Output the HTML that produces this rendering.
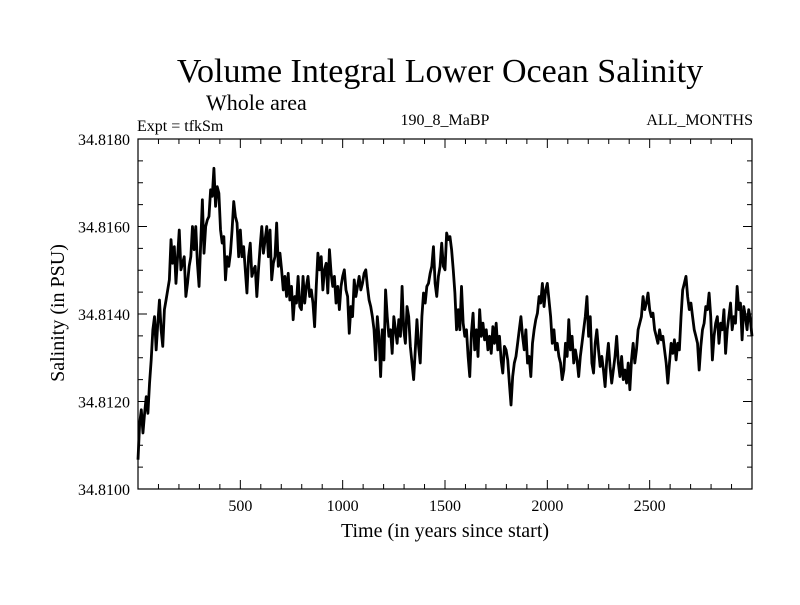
<!DOCTYPE html>
<html><head><meta charset="utf-8"><style>
body{margin:0;background:#fff;}
svg text{font-family:"Liberation Serif",serif;fill:#000;}
</style></head><body>
<svg id="chart" width="800" height="600" viewBox="0 0 800 600">
<rect x="0" y="0" width="800" height="600" fill="#fff"/>
<text x="440" y="82" font-size="34" text-anchor="middle">Volume Integral Lower Ocean Salinity</text>
<text x="206" y="110" font-size="22">Whole area</text>
<text x="137" y="131" font-size="16">Expt = tfkSm</text>
<text x="445" y="125" font-size="16" text-anchor="middle">190_8_MaBP</text>
<text x="753" y="125" font-size="16" text-anchor="end">ALL_MONTHS</text>
<text x="445" y="537" font-size="20" text-anchor="middle">Time (in years since start)</text>
<text x="0" y="0" font-size="20" text-anchor="middle" transform="translate(64,313) rotate(-90)">Salinity (in PSU)</text>
<g id="axes"></g>
<g id="plot"></g>
<rect x="138" y="139" width="614" height="350" fill="none" stroke="#000" stroke-width="1.2"/>
</svg>
<script>
const yearStart = 0;
const yearEnd = 3000;
const xTicks = [500, 1000, 1500, 2000, 2500];
const yTicks = [34.810, 34.812, 34.814, 34.816, 34.818];
const yTickLabels = ["34.8100","34.8120","34.8140","34.8160","34.8180"];
// salinity anomaly above 34.8100 in units of 1e-4 PSU
const anomaly = [6.7,15.0,18.1,12.8,17.3,21.1,17.3,24.2,29.5,36.4,39.4,31.8,37.9,43.2,36.4,32.6,41.0,43.2,45.5,47.8,57.0,51.6,55.4,47.0,53.1,59.2,50.1,51.6,53.1,44.0,47.0,50.9,53.1,60.0,54.7,60.0,51.6,46.3,56.2,66.1,53.9,60.0,61.5,62.3,68.4,66.9,73.3,64.6,69.1,67.6,59.2,56.2,57.7,47.8,53.1,50.9,53.9,59.2,65.7,62.3,60.8,53.1,59.2,53.1,55.4,50.1,44.8,53.1,56.2,48.6,50.1,50.9,44.0,50.1,55.4,60.0,53.9,57.0,60.0,53.1,59.2,47.8,51.6,53.1,60.8,50.9,53.9,50.1,45.5,48.6,44.0,49.3,43.2,46.3,38.7,44.0,42.5,48.6,41.7,41.0,48.6,42.5,46.3,48.6,44.0,45.5,42.5,37.1,46.3,53.9,50.1,53.1,45.5,50.1,51.6,44.8,54.7,49.3,46.3,48.6,42.5,46.3,41.0,46.3,48.6,50.1,45.5,44.0,35.6,41.7,39.4,47.8,44.0,46.3,48.6,45.5,47.0,49.3,50.1,46.3,43.2,41.7,39.4,36.4,29.5,39.4,34.9,25.7,36.4,29.5,45.5,39.4,34.9,36.4,31.0,39.4,36.4,33.3,38.7,34.9,46.3,36.4,33.3,41.7,39.4,32.6,28.8,25.0,31.8,38.7,32.6,28.8,39.4,44.8,42.5,46.3,47.0,49.3,50.9,55.4,47.0,44.0,48.6,50.9,56.2,50.9,50.1,58.5,57.0,
57.7,54.7,50.1,44.8,36.4,41.0,36.4,46.3,37.9,34.9,36.4,30.3,25.7,35.6,40.2,31.8,36.4,30.3,41.0,34.9,37.9,34.1,36.4,31.8,34.9,31.0,37.1,33.3,37.9,31.8,34.9,29.5,26.5,32.6,31.8,29.5,24.2,19.2,25.7,28.8,30.3,33.3,36.4,39.4,34.9,31.8,36.4,28.8,30.3,25.7,33.3,36.4,38.7,40.2,44.0,42.5,47.0,41.7,45.5,47.0,43.2,39.4,33.3,36.4,31.8,33.3,30.3,28.8,25.0,27.2,33.3,30.3,38.7,31.8,34.9,28.8,31.8,29.5,25.7,30.3,33.3,36.4,39.4,44.0,34.9,39.4,28.8,26.5,33.3,36.4,31.8,28.0,30.3,27.2,23.4,29.5,33.3,28.0,24.2,27.2,30.3,34.9,28.8,25.7,30.3,25.0,27.2,24.2,28.8,22.7,29.5,33.3,28.8,31.8,36.4,37.9,39.4,44.0,41.0,42.5,44.8,41.0,39.4,40.2,36.4,34.9,33.3,36.4,34.1,34.9,31.8,28.8,24.2,28.8,33.3,31.0,34.1,29.5,33.3,31.8,39.4,45.5,47.0,48.6,44.0,41.0,42.5,39.4,36.4,34.9,33.3,27.2,32.6,36.4,37.9,41.7,41.0,44.8,39.4,29.5,34.9,37.9,39.4,33.3,37.9,36.4,41.0,31.0,36.4,39.4,42.5,36.4,39.4,37.9,46.3,41.0,42.5,34.1,41.7,39.4,36.4,41.0,38.7,34.9];
const baseSalinity = 34.8100;
const anomalyUnit = 1e-4;

const L=138,R=752,T=139,B=489;
const xs = y => L + (y - yearStart) / (yearEnd - yearStart) * (R - L);
const ys = v => B - (v - 34.810) / (34.818 - 34.810) * (B - T);
const NS='http://www.w3.org/2000/svg';
const axes=document.getElementById('axes');
const plot=document.getElementById('plot');
function ln(x1,y1,x2,y2,name){
  const l=document.createElementNS(NS,'line');
  l.setAttribute('x1',x1);l.setAttribute('y1',y1);l.setAttribute('x2',x2);l.setAttribute('y2',y2);
  l.setAttribute('stroke','#000');l.setAttribute('stroke-width','1');
  
  
  axes.appendChild(l);
}
function tx(x,y,s,anchor,name){
  const t=document.createElementNS(NS,'text');
  t.setAttribute('x',x);t.setAttribute('y',y);t.setAttribute('font-size','16');t.setAttribute('text-anchor',anchor);
  t.textContent=s;
  
  
  axes.appendChild(t);
}
for(let yr=100; yr<3000; yr+=100){
  const major = yr%500===0;
  const len = major?9:5;
  const x=xs(yr);
  ln(x,B,x,B-len,'x-tick');
  ln(x,T,x,T+len,'x-tick-top');
}
xTicks.forEach(v=>tx(xs(v),511,String(v),'middle','x-tick-label'));
for(let k=1;k<16;k++){
  const v=34.810+k*0.0005;
  const major = k%4===0;
  const len = major?9:5;
  const y=ys(v);
  ln(L,y,L+len,y,'y-tick');
  ln(R,y,R-len,y,'y-tick-right');
}
yTicks.forEach((v,i)=>tx(130,ys(v)+6,yTickLabels[i],'end','y-tick-label'));

const n=anomaly.length;
const step=(yearEnd-yearStart)/(n-1);
let d='';
anomaly.forEach((a,i)=>{
  const yr=yearStart+i*step;
  const v=baseSalinity+a*anomalyUnit;
  d+=(i?'L':'M')+xs(yr).toFixed(2)+','+ys(v).toFixed(2);
});
const p=document.createElementNS(NS,'path');
p.setAttribute('d',d);p.setAttribute('fill','none');p.setAttribute('stroke','#000');
p.setAttribute('stroke-width','2.8');p.setAttribute('stroke-linejoin','round');


plot.appendChild(p);
</script>
</body></html>
